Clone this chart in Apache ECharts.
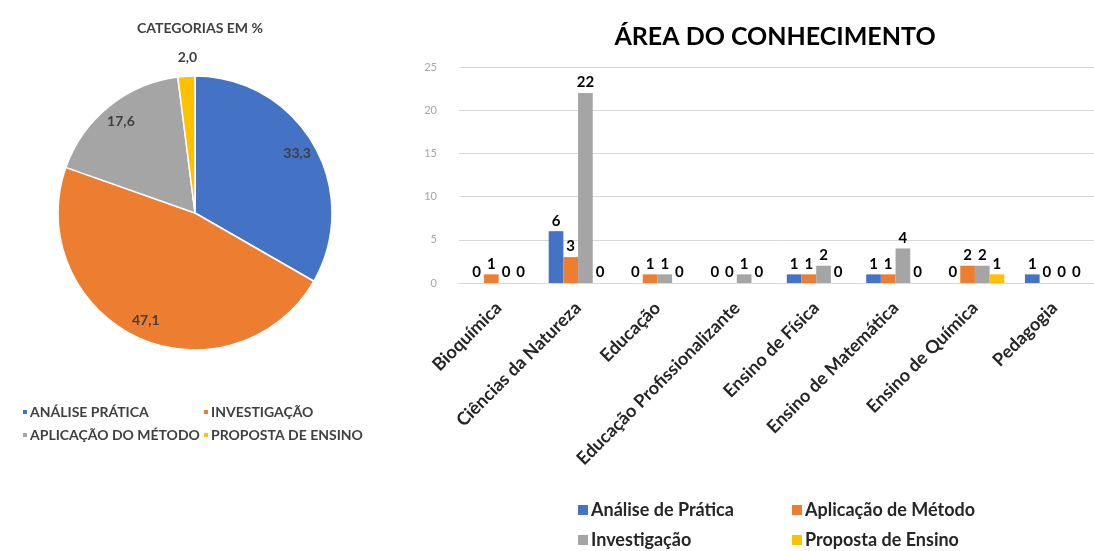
<!DOCTYPE html>
<html>
<head>
<meta charset="utf-8">
<script src="https://cdn.jsdelivr.net/npm/echarts@6/dist/echarts.min.js"></script>
<style>
  html, body { margin: 0; padding: 0; background: #fff; }
  #chartBox { width: 1094px; height: 551px; }
</style>
</head>
<body>
<div id="chartBox"></div>
<script>
// pizza: categorias em %
const pieNames = ['ANÁLISE PRÁTICA', 'INVESTIGAÇÃO', 'APLICAÇÃO DO MÉTODO', 'PROPOSTA DE ENSINO']
const pieValues = [33.3, 47.1, 17.6, 2.0]
const pieColors = ['#4472C4', '#ED7D31', '#A5A5A5', '#FFC000']

// barras: área do conhecimento
const areas = ['Bioquímica', 'Ciências da Natureza', 'Educação', 'Educação Profissionalizante',
  'Ensino de Física', 'Ensino de Matemática', 'Ensino de Química', 'Pedagogia']
const barNames = ['Análise de Prática', 'Aplicação de Método', 'Investigação', 'Proposta de Ensino']
const analisePratica = [0, 6, 0, 0, 1, 1, 0, 1]
const aplicacaoMetodo = [1, 3, 1, 0, 1, 1, 2, 0]
const investigacao = [0, 22, 1, 1, 2, 4, 2, 0]
const propostaEnsino = [0, 0, 0, 0, 0, 0, 1, 0]
const barColors = ['#4472C4', '#ED7D31', '#A5A5A5', '#FFC000']

const font = 'Lato, "Open Sans", sans-serif'
const pieData = pieNames.map((n, i) => ({ name: n, value: pieValues[i], itemStyle: { color: pieColors[i] } }))
const fmt = p => p.value.toFixed(1).replace('.', ',')

// legendas separadas, uma por item, para alinhar em colunas
const pieLegendPos = [[16, 400], [197, 400], [16, 423], [197, 423]]
const barLegendPos = [[573, 496], [787, 496], [573, 526], [787, 526]]
const legends = pieNames.map((n, i) => ({
  data: [n], left: pieLegendPos[i][0], top: pieLegendPos[i][1],
  icon: 'rect', itemWidth: 6, itemHeight: 6, itemGap: 4, selectedMode: false,
  textStyle: { fontFamily: font, fontWeight: 'bold', fontSize: 14, color: '#404040', padding: [0, 0, 0, -3] }
})).concat(barNames.map((n, i) => ({
  data: [n], left: barLegendPos[i][0], top: barLegendPos[i][1],
  icon: 'rect', itemWidth: 10, itemHeight: 10, selectedMode: false,
  textStyle: { fontFamily: font, fontWeight: 'bold', fontSize: 18, color: '#262626', padding: [0, 0, 0, -2] }
})))

const seriesBars = [analisePratica, aplicacaoMetodo, investigacao, propostaEnsino].map((d, i) => ({
  name: barNames[i],
  type: 'bar',
  data: d,
  barGap: '0%',
  barCategoryGap: '26%',
  itemStyle: { color: barColors[i] },
  label: { show: true, position: 'top', distance: 3, fontFamily: font, fontWeight: 'bold', fontSize: 15, color: '#000' }
}))

const myChart = echarts.init(document.getElementById('chartBox'))
myChart.setOption({
  animation: false,
  title: [
    { text: 'CATEGORIAS EM %', left: 195, top: 16, textAlign: 'center',
      textStyle: { fontFamily: font, fontWeight: 'bold', fontSize: 14, color: '#404040' } },
    { text: 'ÁREA DO CONHECIMENTO', left: 770, top: 19, textAlign: 'center',
      textStyle: { fontFamily: font, fontWeight: 'bold', fontSize: 25, color: '#000' } }
  ],
  legend: legends,
  grid: { left: 459, right: -10, top: 67, bottom: 268, containLabel: false },
  xAxis: {
    type: 'category',
    data: areas,
    axisLine: { lineStyle: { color: '#d9d9d9' } },
    axisTick: { show: false },
    axisLabel: { rotate: 45, margin: 22, interval: 0, fontFamily: font, fontWeight: 'bold', fontSize: 18, color: '#262626' }
  },
  yAxis: {
    type: 'value',
    min: 0,
    max: 25,
    interval: 5,
    axisLine: { show: false },
    axisTick: { show: false },
    axisLabel: { margin: 22, fontFamily: font, fontSize: 11, color: '#a6a6a6' },
    splitLine: { lineStyle: { color: '#d9d9d9' } }
  },
  series: [
    {
      name: 'categorias',
      type: 'pie',
      center: [195, 213],
      radius: [0, 137],
      startAngle: 90,
      clockwise: true,
      data: pieData,
      label: { show: false },
      labelLine: { show: false },
      itemStyle: { borderColor: '#fff', borderWidth: 1.5 },
      silent: true
    },
    {
      // anel transparente só para posicionar os rótulos perto da borda
      name: 'rotulos',
      type: 'pie',
      center: [195, 213],
      radius: [90, 140],
      startAngle: 90,
      clockwise: true,
      silent: true,
      data: pieNames.map((n, i) => ({
        name: n,
        value: pieValues[i],
        itemStyle: { color: 'rgba(0,0,0,0)' },
        label: i === 3 ? { position: 'outside', distanceToLabelLine: -12 } : {},
        labelLine: { show: false, length: 16, length2: 0 }
      })),
      label: { show: true, position: 'inside', formatter: fmt, fontFamily: font, fontWeight: 'bold', fontSize: 14, color: '#404040' },
      labelLine: { show: false },
      emphasis: { disabled: true }
    }
  ].concat(seriesBars)
})
</script>
</body>
</html>
